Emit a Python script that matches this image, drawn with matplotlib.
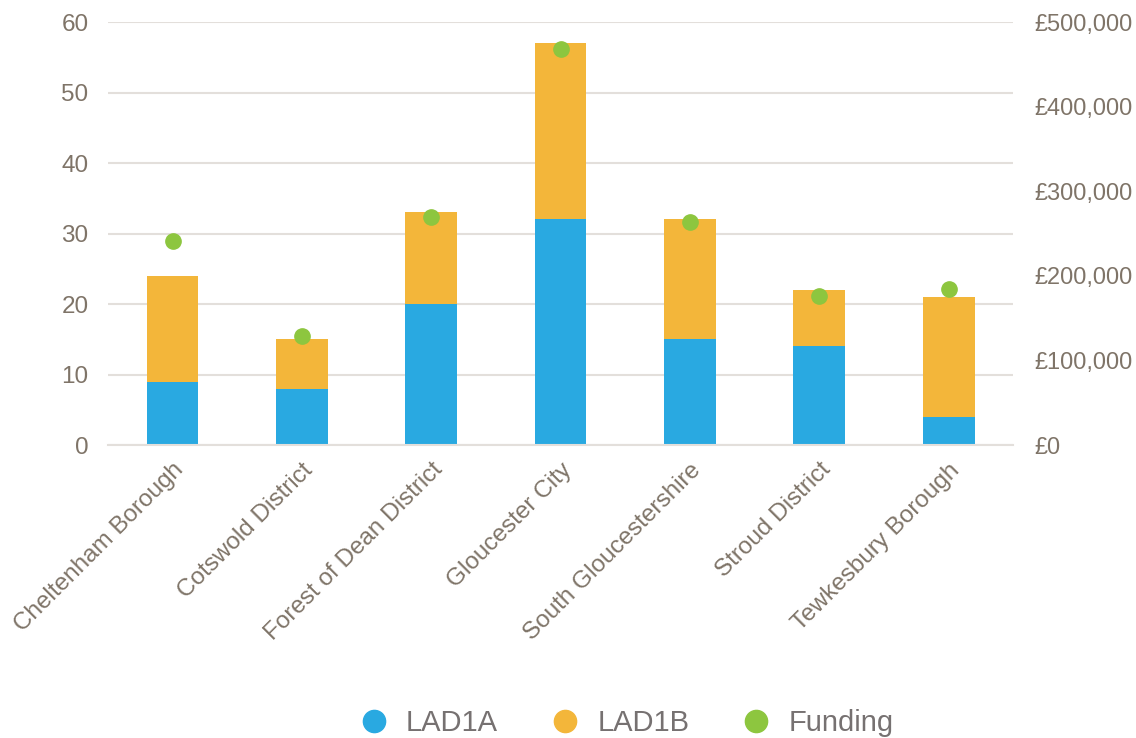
import matplotlib.pyplot as plt
from matplotlib.lines import Line2D
from matplotlib.ticker import FuncFormatter

plt.rcParams['font.family'] = ['Liberation Sans', 'DejaVu Sans']

# council areas and installation counts
councils = ["Cheltenham Borough", "Cotswold District", "Forest of Dean District",
            "Gloucester City", "South Gloucestershire", "Stroud District",
            "Tewkesbury Borough"]
lad1a = [9, 8, 20, 32, 15, 14, 4]
lad1b = [15, 7, 13, 25, 17, 8, 17]
funding = [241000, 129000, 270000, 468000, 264000, 176000, 184000]

BLUE = "#29A9E1"
ORANGE = "#F3B63A"
GREEN = "#8DC63F"
TEXT = "#7F7468"
GRID = "#E3DFDB"

fig = plt.figure(figsize=(11.36, 7.38), dpi=100)
ax = fig.add_axes([0.095, 0.397, 0.797, 0.573])
ax2 = ax.twinx()

x = list(range(len(councils)))
ax.bar(x, lad1a, width=0.4, color=BLUE, zorder=2)
ax.bar(x, lad1b, width=0.4, bottom=lad1a, color=ORANGE, zorder=2)
ax2.plot(x, funding, "o", color=GREEN, markersize=11, zorder=3)

ax.set_ylim(0, 60)
ax.set_yticks(range(0, 61, 10))
ax2.set_ylim(0, 500000)
ax2.set_yticks(range(0, 500001, 100000))
ax2.yaxis.set_major_formatter(FuncFormatter(lambda v, p: "£{:,.0f}".format(v)))
ax.set_xlim(-0.5, len(councils) - 0.5)

ax.yaxis.grid(True, color=GRID, linewidth=1.5, zorder=0)
ax.set_axisbelow(True)
for a in (ax, ax2):
    for s in a.spines.values():
        s.set_visible(False)
    a.tick_params(length=0, labelsize=17.5, labelcolor=TEXT)
ax.spines["bottom"].set_visible(True)
ax.spines["bottom"].set_color(GRID)
ax.spines["bottom"].set_linewidth(1.5)
ax.tick_params(axis="y", pad=14)
ax2.tick_params(axis="y", pad=15, labelsize=17)

ax.set_xticks(x)
ax.set_xticklabels(councils, rotation=45, ha="right", rotation_mode="anchor")
ax.tick_params(axis="x", pad=10)

handles = [Line2D([], [], marker="o", linestyle="", color=c, markersize=16)
           for c in (BLUE, ORANGE, GREEN)]
fig.legend(handles, ["LAD1A", "LAD1B", "Funding"], loc="lower center",
           bbox_to_anchor=(0.545, -0.034), ncol=3, frameon=False, fontsize=21,
           labelcolor="#767171", handletextpad=0.1, columnspacing=1.3)

fig.savefig("out.png", dpi=100)
